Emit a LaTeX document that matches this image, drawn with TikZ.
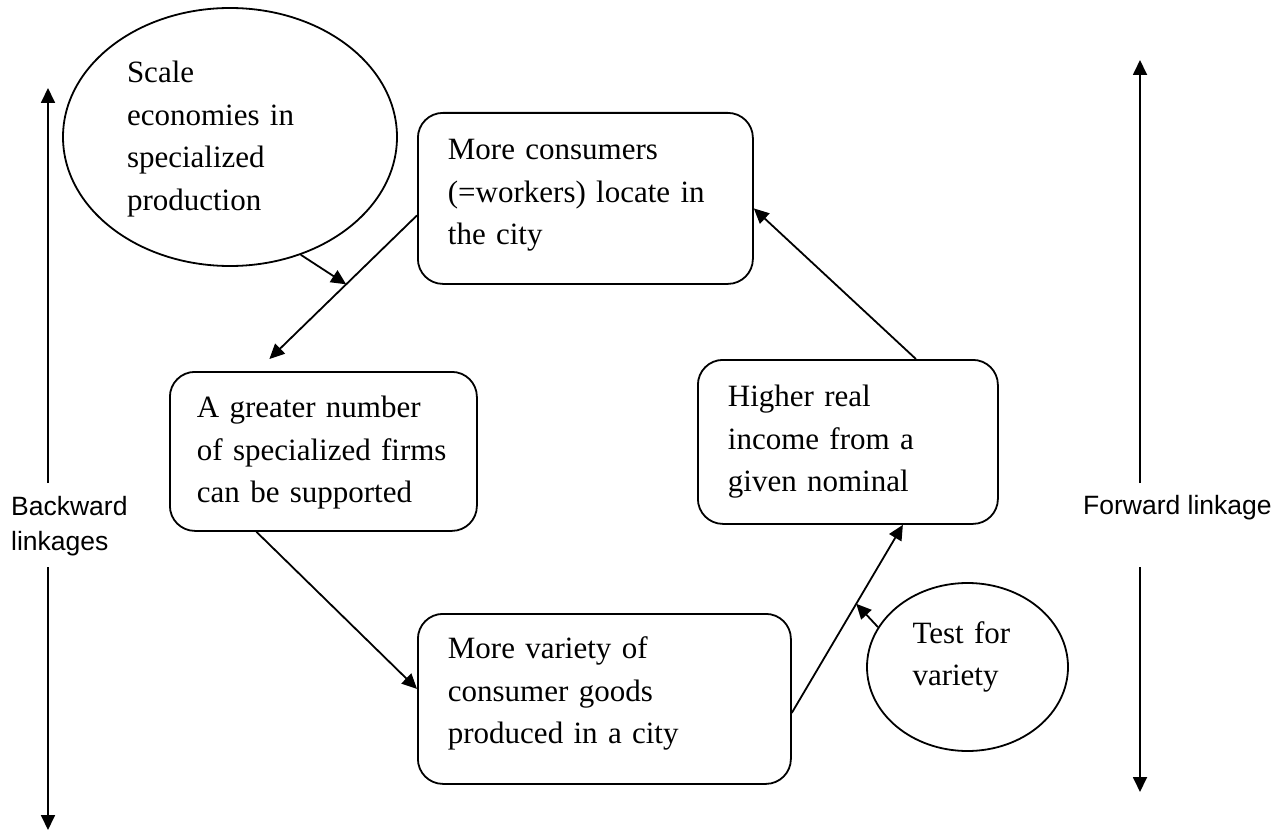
\documentclass[tikz,border=0pt]{standalone}
\usepackage{fontspec}
\setmainfont{Liberation Serif}
\newfontfamily\linkfont{Liberation Sans}
\usetikzlibrary{arrows.meta,shapes.geometric}

\tikzset{
    stepbox/.style={draw, line width=1.8pt, rounded corners=25pt, anchor=north west,
        align=left, inner ysep=0pt, inner xsep=30pt, font=\fontsize{31}{42.5}\selectfont},
    bubble/.style={draw, ellipse, line width=1.8pt, align=left, inner sep=0pt,
        font=\fontsize{31}{42.5}\selectfont},
    linklabel/.style={inner sep=0pt, align=left, font=\linkfont\fontsize{26.5}{35}\selectfont},
    link/.style={->, line width=1.8pt}
}

\begin{document}
\begin{tikzpicture}[x=1pt, y=-1pt, >={Triangle[length=15pt,width=14pt]}]

        \useasboundingbox (0,0) rectangle (1286,832);

        % ==========================================
        % 1. Ellissi
        % ==========================================
        \node[bubble, text width=206pt, text height=22pt, text depth=130pt,
            minimum width=334pt, minimum height=258pt] (scale) at (230,137)
            {Scale\\economies in\\specialized\\production};
        \node[bubble, text width=110pt, text height=22pt, text depth=70pt,
            minimum width=201pt, minimum height=168pt] (test) at (967.5,667)
            {Test for\\variety};

        % ==========================================
        % 2. Riquadri del ciclo
        % ==========================================
        \node[stepbox, text width=275pt, text height=47pt, text depth=124pt] (more) at (417,112)
            {More consumers\\(=workers) locate in\\the city};
        \node[stepbox, inner xsep=27pt, text width=253pt, text height=46pt, text depth=113pt] (firms) at (169,371)
            {A greater number\\of specialized firms\\can be supported};
        \node[stepbox, text width=313pt, text height=45pt, text depth=125pt] (variety) at (417,613)
            {More variety of\\consumer goods\\produced in a city};
        \node[stepbox, text width=240pt, text height=47pt, text depth=117pt] (income) at (697,359)
            {Higher real\\income from a\\given nominal};

        % ==========================================
        % 3. Frecce del ciclo
        % ==========================================
        \draw[link] ([yshift=-17pt]more.west) -- coordinate[pos=0.48] (join1) ([xshift=-54pt,yshift=12pt]firms.north);
        \draw[link] (scale.-59.5) -- (join1);
        \draw[link] ([xshift=-67pt]firms.south) -- ([yshift=10pt]variety.west);
        \draw[link] ([yshift=-14pt]variety.east) -- coordinate[pos=0.58] (join2) ([xshift=55pt]income.south);
        \draw[link] (test.156) -- (join2);
        \draw[link] ([xshift=68pt]income.north) -- ([yshift=-10pt]more.east);

        % ==========================================
        % 4. Linkages laterali
        % ==========================================
        \node[linklabel, text width=130pt, anchor=base west] (back) at (11,515) {Backward\\linkages};
        \node[linklabel, anchor=base west] (fwd) at (1083,514) {Forward linkage};

        \coordinate (backtop) at (48,88);
        \coordinate (backup) at (48,483);
        \coordinate (backdown) at (48,567);
        \coordinate (backbot) at (48,830);
        \draw[link] (backup) -- (backtop);
        \draw[link] (backdown) -- (backbot);

        \coordinate (fwdtop) at (1140,60);
        \coordinate (fwdup) at (1140,483);
        \coordinate (fwddown) at (1140,567);
        \coordinate (fwdbot) at (1140,792);
        \draw[link] (fwdup) -- (fwdtop);
        \draw[link] (fwddown) -- (fwdbot);

    \end{tikzpicture}
\end{document}
